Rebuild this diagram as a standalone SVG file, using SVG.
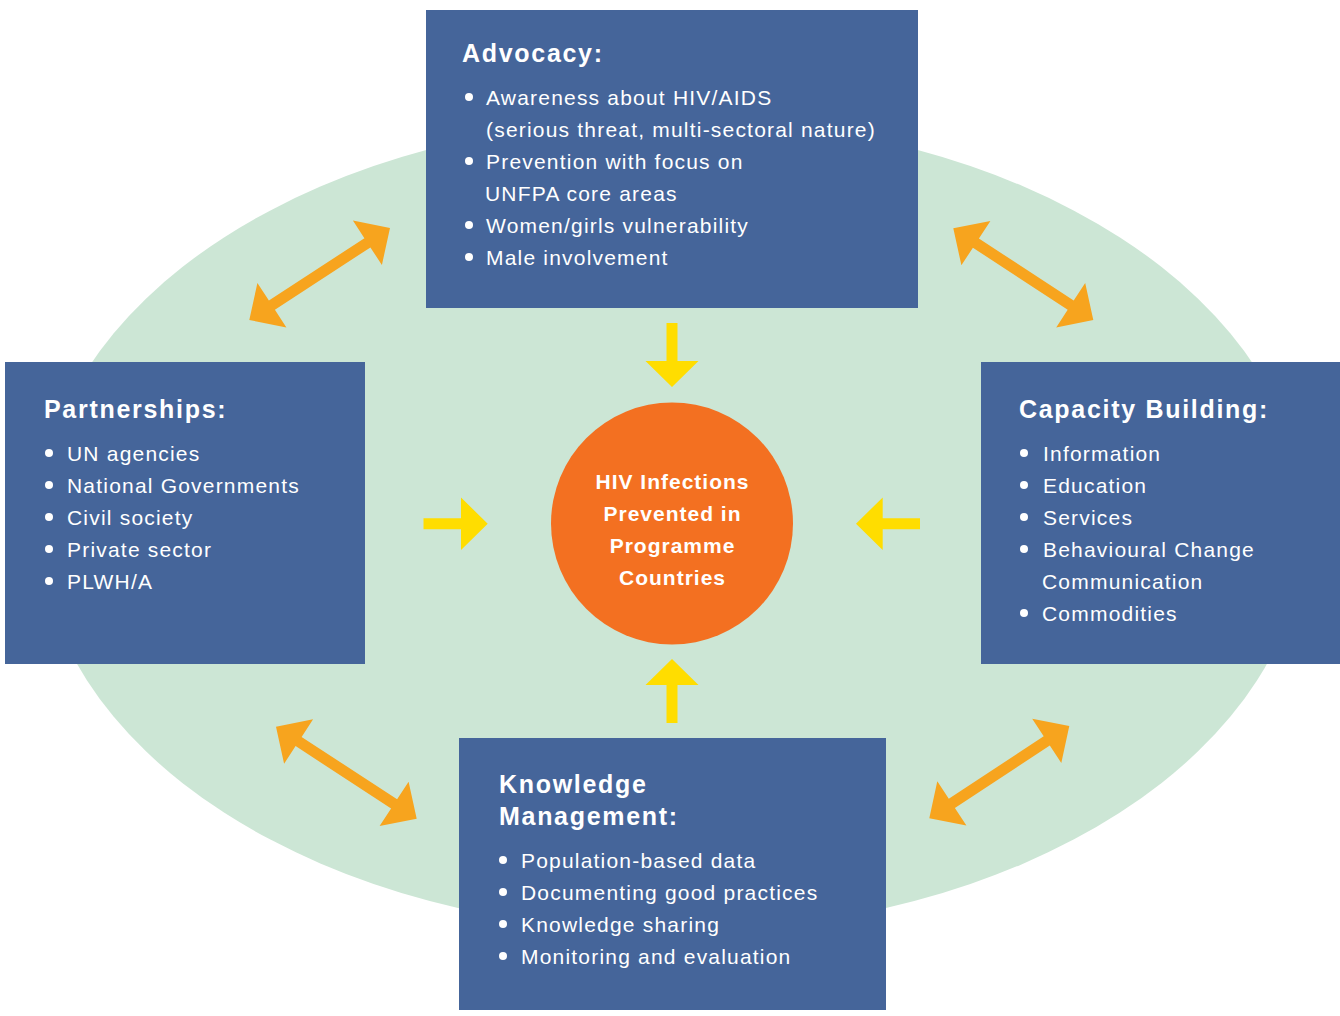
<svg xmlns="http://www.w3.org/2000/svg" width="1340" height="1016" viewBox="0 0 1340 1016">
<style>
.box{fill:#45659A}
.h{font-family:"Liberation Sans",Arial,sans-serif;font-weight:bold;font-size:25px;fill:#fff;letter-spacing:1.7px}
.t{font-family:"Liberation Sans",Arial,sans-serif;font-size:21px;fill:#fff;letter-spacing:1.2px}
.c{font-family:"Liberation Sans",Arial,sans-serif;font-weight:bold;font-size:21px;fill:#fff;letter-spacing:1px;text-anchor:middle}
.b{fill:#fff}
.dbl{fill:#F7A41E}
.yel{fill:#FFDD00}
</style>
<rect width="1340" height="1016" fill="#fff"/>
<ellipse id="background" cx="672" cy="525" rx="633" ry="407" fill="#CCE6D5"/>
<g id="connectors">
<polygon class="dbl" points="390,228 352.9,220.6 364.4,238.2 268.9,300.6 257.4,283.0 249.3,320 286.4,327.4 274.9,309.8 370.4,247.4 381.9,265.0"/>
<polygon class="dbl" points="276,726.7 284.1,763.7 295.6,746.1 391.1,808.5 379.6,826.1 416.7,818.7 408.6,781.7 397.1,799.3 301.6,736.9 313.1,719.3"/>
<polygon class="dbl" points="953.3,228.3 961.4,265.3 972.9,247.7 1067.7,309.8 1056.2,327.4 1093.3,320 1085.2,283.0 1073.7,300.6 978.9,238.5 990.4,220.9"/>
<polygon class="dbl" points="1069.3,726 1032.2,718.7 1043.7,736.3 948.8,798.8 937.3,781.3 929.3,818.3 966.4,825.6 954.9,808.0 1049.8,745.5 1061.3,763.0"/>
<polygon class="yel" points="666.5,323 677.5,323 677.5,361 698.5,361 672,387 645.5,361 666.5,361"/>
<polygon class="yel" points="672,659 698.5,685 677.5,685 677.5,723 666.5,723 666.5,685 645.5,685"/>
<polygon class="yel" points="423.5,518.3 461,518.3 461,497.5 487.7,523.7 461,550 461,529.2 423.5,529.2"/>
<polygon class="yel" points="856,523.7 882.7,497.5 882.7,518.3 920,518.3 920,529.2 882.7,529.2 882.7,550"/>
</g>
<g id="advocacy">
<rect class="box" x="426" y="10" width="492" height="298"/>
<text class="h" x="462" y="62">Advocacy:</text>
<circle class="b" cx="469" cy="97" r="4"/>
<text class="t" x="486" y="105">Awareness about HIV/AIDS</text>
<text class="t" x="486" y="137">(serious threat, multi-sectoral nature)</text>
<circle class="b" cx="469" cy="161" r="4"/>
<text class="t" x="486" y="169">Prevention with focus on</text>
<text class="t" x="485" y="201">UNFPA core areas</text>
<circle class="b" cx="469" cy="225" r="4"/>
<text class="t" x="486" y="233">Women/girls vulnerability</text>
<circle class="b" cx="469" cy="257" r="4"/>
<text class="t" x="486" y="265">Male involvement</text>
</g>
<g id="partnerships">
<rect class="box" x="5" y="362" width="360" height="302"/>
<text class="h" x="44" y="418">Partnerships:</text>
<circle class="b" cx="49" cy="453" r="4"/>
<text class="t" x="67" y="461">UN agencies</text>
<circle class="b" cx="49" cy="485" r="4"/>
<text class="t" x="67" y="493">National Governments</text>
<circle class="b" cx="49" cy="517" r="4"/>
<text class="t" x="67" y="525">Civil society</text>
<circle class="b" cx="49" cy="549" r="4"/>
<text class="t" x="67" y="557">Private sector</text>
<circle class="b" cx="49" cy="581" r="4"/>
<text class="t" x="67" y="589">PLWH/A</text>
</g>
<g id="capacity-building">
<rect class="box" x="981" y="362" width="359" height="302"/>
<text class="h" x="1019" y="418">Capacity Building:</text>
<circle class="b" cx="1024" cy="453" r="4"/>
<text class="t" x="1043" y="461">Information</text>
<circle class="b" cx="1024" cy="485" r="4"/>
<text class="t" x="1043" y="493">Education</text>
<circle class="b" cx="1024" cy="517" r="4"/>
<text class="t" x="1043" y="525">Services</text>
<circle class="b" cx="1024" cy="549" r="4"/>
<text class="t" x="1043" y="557">Behavioural Change</text>
<text class="t" x="1042" y="589">Communication</text>
<circle class="b" cx="1024" cy="613" r="4"/>
<text class="t" x="1042" y="621">Commodities</text>
</g>
<g id="knowledge-management">
<rect class="box" x="459" y="738" width="427" height="272"/>
<text class="h" x="499" y="793">Knowledge</text>
<text class="h" x="499" y="825">Management:</text>
<circle class="b" cx="503" cy="860" r="4"/>
<text class="t" x="521" y="868">Population-based data</text>
<circle class="b" cx="503" cy="892" r="4"/>
<text class="t" x="521" y="900">Documenting good practices</text>
<circle class="b" cx="503" cy="924" r="4"/>
<text class="t" x="521" y="932">Knowledge sharing</text>
<circle class="b" cx="503" cy="956" r="4"/>
<text class="t" x="521" y="964">Monitoring and evaluation</text>
</g>
<g id="center">
<circle cx="672" cy="523.5" r="121" fill="#F37021"/>
<text class="c" x="672.5" y="489">HIV Infections</text>
<text class="c" x="672.5" y="521">Prevented in</text>
<text class="c" x="672.5" y="553">Programme</text>
<text class="c" x="672.5" y="585">Countries</text>
</g>
</svg>
